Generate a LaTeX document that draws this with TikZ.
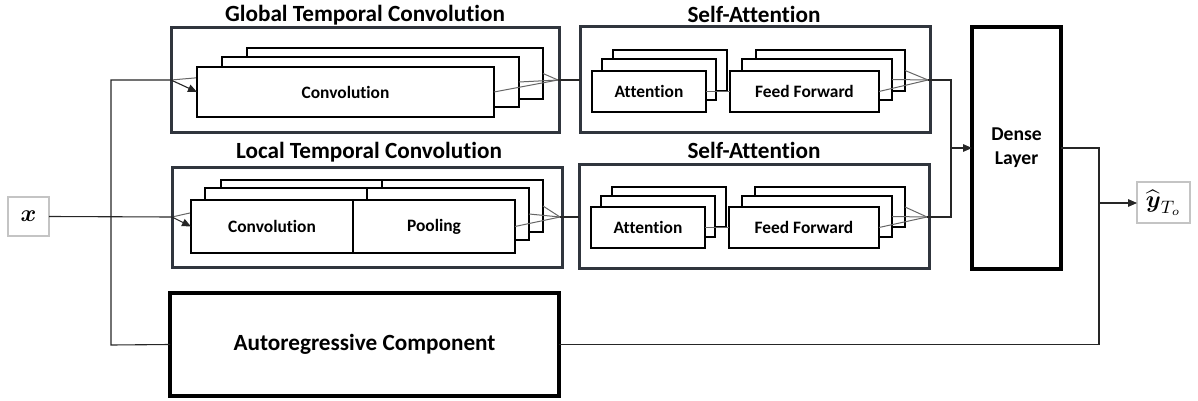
\documentclass[tikz,border=0pt]{standalone}
\usepackage{amsmath}
\usepackage{fontspec}
\setmainfont{Carlito}[Ligatures=NoCommon]
\usetikzlibrary{arrows.meta}
\pgfdeclarelayer{bg}
\pgfsetlayers{bg,main}
\definecolor{grpc}{HTML}{30353D}
\definecolor{iogray}{HTML}{C4C4C4}
\newcommand\mkbox[7]{\node[#2, minimum width={(#5-#3)*0.5pt}, minimum height={(#6-#4)*0.5pt}, inner sep=0pt, outer sep=0pt, align=center] (#1) at ({(#3+#5)/2},{(#4+#6)/2}) {#7};}
\tikzset{
  grp/.style={draw=grpc, line width=1.5pt},
  blk/.style={draw=black, line width=1.1pt, fill=white},
  big/.style={draw=black, line width=1.6pt, fill=white},
  io/.style={draw=iogray, line width=1pt, fill=white},
  conn/.style={draw=black!85, line width=0.55pt},
  fan/.style={draw=black!60, line width=0.5pt},
  arr/.style={conn, -{Triangle[length=4.5pt,width=3.8pt]}},
  ttl/.style={font=\bfseries\fontsize{11.6}{13}\selectfont},
  lbl/.style={font=\bfseries\fontsize{8.7}{10}\selectfont},
}
\begin{document}
\begin{tikzpicture}[x=0.5pt,y=-0.5pt]
\useasboundingbox (0,0) rectangle (1198,401);
% titles
\node[ttl] (tg) at (365,15) {Global Temporal Convolution};
\node[ttl] (tl) at (369,152) {Local Temporal Convolution};
\node[ttl] (ts1) at (754,14) {Self-Attention};
\node[ttl] (ts2) at (754,150) {Self-Attention};
% group boxes
\mkbox{G}{grp}{171}{28}{559}{132}{}
\mkbox{L}{grp}{172}{167}{562}{267}{}
\mkbox{S1}{grp}{580}{27}{930}{132}{}
\mkbox{S2}{grp}{579}{164}{929}{268}{}
% global convolution stack
\mkbox{gc3}{blk}{247}{48}{543}{99}{}
\mkbox{gc2}{blk}{222}{57}{519}{107}{}
\mkbox{gc1}{blk,lbl}{197}{67}{494}{117}{Convolution}
% local convolution stack
\mkbox{lc3}{blk}{221}{180}{382}{232}{}
\mkbox{lp3}{blk}{382}{180}{543}{232}{}
\mkbox{lc2}{blk}{205}{188}{367}{240}{}
\mkbox{lp2}{blk}{367}{188}{529}{240}{}
\mkbox{lc1}{blk,lbl}{191}{200}{353}{253}{Convolution}
\mkbox{lp1}{blk,lbl}{353}{200}{515}{253}{Pooling}
% self-attention 1
\mkbox{a13}{blk}{613}{50}{727}{91}{}
\mkbox{a12}{blk}{602}{59}{716}{100}{}
\mkbox{a11}{blk,lbl}{592}{71}{706}{112}{Attention}
\mkbox{f13}{blk}{756}{50}{905}{91}{}
\mkbox{f12}{blk}{742}{59}{892}{100}{}
\mkbox{f11}{blk,lbl}{730}{71}{879}{112}{Feed Forward}
% self-attention 2
\mkbox{a23}{blk}{612}{187}{726}{227}{}
\mkbox{a22}{blk}{601}{196}{715}{237}{}
\mkbox{a21}{blk,lbl}{591}{207}{705}{248}{Attention}
\mkbox{f23}{blk}{755}{187}{905}{227}{}
\mkbox{f22}{blk}{742}{196}{892}{237}{}
\mkbox{f21}{blk,lbl}{729}{207}{879}{248}{Feed Forward}
% dense, AR, io
\mkbox{D}{big,font=\bfseries\fontsize{9.8}{12}\selectfont}{972}{27}{1061}{269}{Dense\\Layer}
\mkbox{AR}{big,font=\bfseries\fontsize{11.6}{14}\selectfont}{170}{293}{559}{396}{Autoregressive Component}
\mkbox{X}{io}{8}{197}{49}{236}{\fontsize{12}{14}\selectfont$\boldsymbol{x}$}
\mkbox{Y}{io}{1137}{182}{1190}{223}{\fontsize{12.5}{14}\selectfont$\widehat{\boldsymbol{y}}_{T_o}$}
% coordinates
\coordinate (gin) at (171,80);
\coordinate (lin) at (172,217);
\coordinate (gout) at (558,80);
\coordinate (lout) at (560,217);
\coordinate (s1out) at (928,80);
\coordinate (s2out) at (927,217);
\coordinate (vx) at (111,80);
\coordinate (vl) at (111,345);
\coordinate (mj) at (951,148);
\coordinate (oj) at (1099,148);
\coordinate (oy) at (1099,203);
% hidden fan lines
\begin{pgfonlayer}{bg}
\draw[fan] (gin) -- (gc3.west);
\draw[fan] (lin) -- (lc3.west);
\end{pgfonlayer}
% input connectors
\draw[conn] (X.east) -- (lin);
\draw[conn] (gin) -- (vx) -- (vl) -- (AR.west);
\draw[arr] (gin) -- (gc1.west);
\draw[arr] (lin) -- (lc1.west);
% output fans
\draw[fan] (gc1.east) -- (gout);
\draw[fan] (gc2.east) -- (gout);
\draw[fan] (gc3.east) -- (gout);
\draw[fan] (lp1.east) -- (lout);
\draw[fan] (lp2.east) -- (lout);
\draw[fan] (lp3.east) -- (lout);
\draw[conn] (gout) -- (S1.west |- gout);
\draw[conn] (lout) -- (S2.west |- lout);
% attention to feed forward
\draw[fan] (a11.east) -- (f11.west);
\draw[fan] (a21.east) -- (f21.west);
\draw[fan] (f11.east) -- (s1out);
\draw[fan] (f12.east) -- (s1out);
\draw[fan] (f13.east) -- (s1out);
\draw[fan] (f21.east) -- (s2out);
\draw[fan] (f22.east) -- (s2out);
\draw[fan] (f23.east) -- (s2out);
\draw[conn] (s1out) -| (mj);
\draw[conn] (s2out) -| (mj);
\draw[arr] (mj) -- (D.west |- mj);
% output
\draw[conn] (D.east |- oj) -- (oj) -- (oj |- AR.east) -- (AR.east);
\draw[arr] (oy) -- (Y.west |- oy);
\end{tikzpicture}
\end{document}
